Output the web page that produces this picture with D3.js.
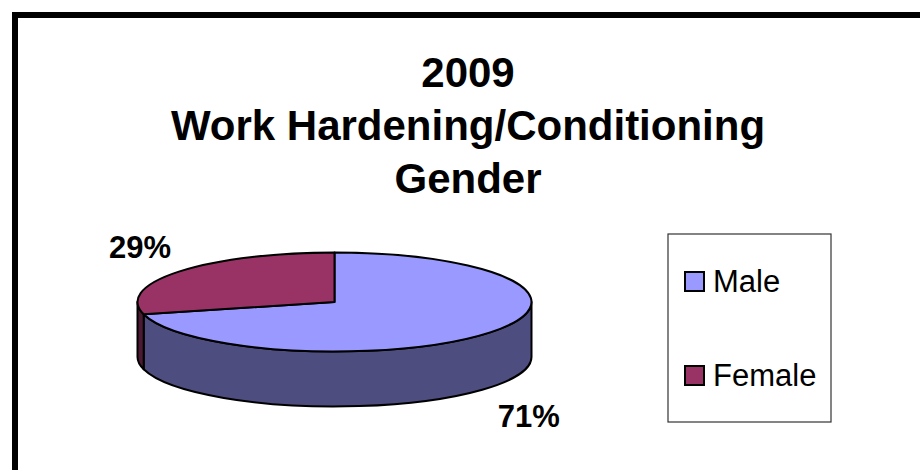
<!DOCTYPE html>
<html>
<head>
<meta charset="utf-8">
<script src="https://cdn.jsdelivr.net/npm/d3@7"></script>
<style>
  body { margin: 0; background: #fff; }
  svg text { font-family: "Liberation Sans", Arial, sans-serif; fill: #000; }
  .title { font-size: 42px; font-weight: bold; }
  .pct { font-size: 31px; font-weight: bold; }
  .legend { font-size: 31px; }
</style>
</head>
<body>
<svg id="chart" width="920" height="470"></svg>
<script>
// data
const categories = ["Male", "Female"];
const values = [71, 29];
const topColors = ["#9999ff", "#993366"];
const sideColors = ["#4d4d80", "#4d1a33"];
const titleLines = ["2009", "Work Hardening/Conditioning", "Gender"];

let svg = d3.select("#chart");

// outer frame (runs off the right and bottom edge)
svg.append("rect")
    .attr("x", 15).attr("y", 15)
    .attr("width", 940).attr("height", 500)
    .attr("fill", "#fff")
    .attr("stroke", "#000")
    .attr("stroke-width", 6);

// title
svg.append("g").selectAll("text")
    .data(titleLines)
    .enter()
    .append("text")
    .attr("class", "title")
    .attr("x", 468)
    .attr("y", function (d, i) { return 87 + i * 53; })
    .attr("text-anchor", "middle")
    .text(function (d) { return d; });

// 3d pie geometry
let cx = 334.5, cy = 302, rx = 197, ry = 49.5, depth = 55;
let pie = d3.pie().sort(null).value(function (d) { return d; });
let arcs = pie(values);

function pt(a, dy) {
    return [cx + rx * Math.sin(a), cy - ry * Math.cos(a) + (dy || 0)];
}

function topPath(d) {
    let p0 = pt(d.startAngle), p1 = pt(d.endAngle);
    let large = (d.endAngle - d.startAngle) > Math.PI ? 1 : 0;
    return `M${cx},${cy}L${p0[0]},${p0[1]}A${rx},${ry} 0 ${large} 1 ${p1[0]},${p1[1]}Z`;
}

function sidePath(d) {
    // only the front half of the rim is visible
    let a = Math.max(d.startAngle, Math.PI / 2);
    let b = Math.min(d.endAngle, Math.PI * 1.5);
    if (b <= a) return null;
    let p0 = pt(a), p1 = pt(b), q1 = pt(b, depth), q0 = pt(a, depth);
    return `M${p0[0]},${p0[1]}A${rx},${ry} 0 0 1 ${p1[0]},${p1[1]}` +
        `L${q1[0]},${q1[1]}A${rx},${ry} 0 0 0 ${q0[0]},${q0[1]}Z`;
}

let pieG = svg.append("g");

pieG.selectAll(".side")
    .data(arcs.filter(function (d) { return sidePath(d) !== null; }))
    .enter()
    .append("path")
    .attr("class", "side")
    .attr("d", sidePath)
    .attr("fill", function (d) { return sideColors[d.index]; })
    .attr("stroke", "#000")
    .attr("stroke-width", 2)
    .attr("stroke-linejoin", "round");

pieG.selectAll(".top")
    .data(arcs)
    .enter()
    .append("path")
    .attr("class", "top")
    .attr("d", topPath)
    .attr("fill", function (d) { return topColors[d.index]; })
    .attr("stroke", "#000")
    .attr("stroke-width", 2)
    .attr("stroke-linejoin", "round");

// percent labels outside the pie
let lrx = 246, lry = 90;
pieG.selectAll(".pct")
    .data(arcs)
    .enter()
    .append("text")
    .attr("class", "pct")
    .attr("text-anchor", "middle")
    .attr("transform", function (d) {
        let m = (d.startAngle + d.endAngle) / 2;
        let x = cx + lrx * Math.sin(m);
        let y = cy - lry * Math.cos(m) + (Math.cos(m) < 0 ? depth + 4 : 0);
        return `translate(${x},${y})`;
    })
    .attr("dy", "0.35em")
    .text(function (d) { return Math.round(d.value / d3.sum(values) * 100) + "%"; });

// legend
let lg = svg.append("g").attr("transform", "translate(668,234)");
lg.append("rect")
    .attr("width", 163).attr("height", 188)
    .attr("fill", "#fff")
    .attr("stroke", "#333")
    .attr("stroke-width", 1.2);

categories.forEach(function (c, i) {
    let item = lg.append("g").attr("transform", `translate(17,${38 + i * 94})`);
    item.append("rect")
        .attr("width", 19).attr("height", 19)
        .attr("fill", topColors[i])
        .attr("stroke", "#000")
        .attr("stroke-width", 2);
    item.append("text")
        .attr("class", "legend")
        .attr("x", 28)
        .attr("y", 20)
        .text(c);
});
</script>
</body>
</html>
